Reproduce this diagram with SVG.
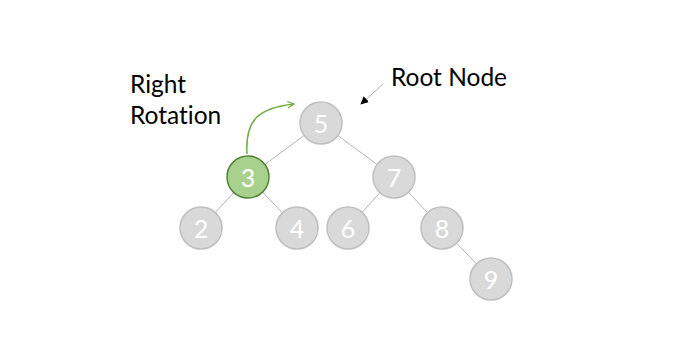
<svg xmlns="http://www.w3.org/2000/svg" width="700" height="349" viewBox="0 0 700 349">
<style>
.n circle{fill:#d9d9d9;stroke:#bfbfbf;stroke-width:1.5}
.n text{fill:#fff;font-family:Lato,"Open Sans",sans-serif;font-size:25px;text-anchor:middle;dominant-baseline:central}
.g circle{fill:#a9d18e;stroke:#548235}
.e line{stroke:#b4b4b4;stroke-width:1}
.lbl{font-family:Lato,"Open Sans",sans-serif;font-size:24.5px;fill:#000;font-variant-ligatures:none}
</style>
<defs>
<marker id="ga" viewBox="0 0 10 10" refX="9" refY="5" markerWidth="8" markerHeight="8" orient="auto" markerUnits="userSpaceOnUse"><path d="M1,1 L9,5 L1,9" fill="none" stroke="#70ad47" stroke-width="1.5"/></marker>
<marker id="ba" viewBox="0 0 10 10" refX="9" refY="5" markerWidth="8" markerHeight="8" orient="auto" markerUnits="userSpaceOnUse"><path d="M0,0 L10,5 L0,10 Z" fill="#000"/></marker>
</defs>
<rect width="700" height="349" fill="#fff"/>
<g id="connectors" class="e">
<line x1="321" y1="123" x2="248" y2="177"/>
<line x1="321" y1="123" x2="394" y2="177"/>
<line x1="248" y1="177" x2="201" y2="228"/>
<line x1="248" y1="177" x2="297" y2="228"/>
<line x1="394" y1="177" x2="348" y2="228"/>
<line x1="394" y1="177" x2="442" y2="228"/>
<line x1="442" y1="228" x2="491" y2="279"/>
<path d="M247,154 C245,120 258,108 294,104" fill="none" stroke="#70ad47" stroke-width="1.5" marker-end="url(#ga)"/>
<line x1="383" y1="84" x2="361" y2="104" stroke="#000" stroke-width="1" marker-end="url(#ba)"/>
</g>
<g id="n5" class="n"><circle cx="321" cy="123" r="21"/><text x="321" y="123">5</text></g>
<g id="n3" class="n g"><circle cx="248" cy="177" r="21"/><text x="248" y="177">3</text></g>
<g id="n7" class="n"><circle cx="394" cy="177" r="21"/><text x="394" y="177">7</text></g>
<g id="n2" class="n"><circle cx="201" cy="228" r="21"/><text x="201" y="228">2</text></g>
<g id="n4" class="n"><circle cx="297" cy="228" r="21"/><text x="297" y="228">4</text></g>
<g id="n6" class="n"><circle cx="348" cy="228" r="21"/><text x="348" y="228">6</text></g>
<g id="n8" class="n"><circle cx="442" cy="228" r="21"/><text x="442" y="228">8</text></g>
<g id="n9" class="n"><circle cx="491" cy="279" r="21"/><text x="491" y="279">9</text></g>
<g id="lbl-rotation"><text class="lbl" x="130" y="93">Right</text><text class="lbl" x="130" y="124">Rotation</text></g>
<g id="lbl-root"><text class="lbl" x="391" y="86">Root Node</text></g>
</svg>
